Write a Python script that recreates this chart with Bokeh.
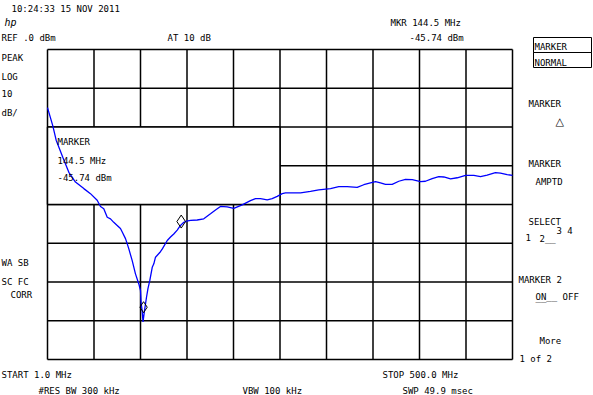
from bokeh.plotting import figure
from bokeh.models import Label
from bokeh.embed import file_html
from bokeh.resources import INLINE

# ---- data ----
start_mhz = 1.0
stop_mhz = 500.0
ref_dbm = 0.0
db_per_div = 10
n_xdiv = 10
n_ydiv = 8

freq_mhz = [1.0, 6.7, 10.3, 17.4, 23.9, 31.0, 40.0, 47.1, 54.3, 57.9, 61.4, 65.1, 68.6,
            72.1, 75.8, 79.3, 81.2, 84.7, 86.5, 88.2, 91.9, 95.4, 99.0, 100.8, 101.5,
            102.6, 103.5, 105.1, 107.2, 108.8, 110.8, 113.4, 115.1, 116.9, 121.5, 124.4,
            129.5, 133.0, 136.5, 140.2, 143.7, 147.3, 150.2, 154.5, 161.6, 168.7, 175.9,
            181.3, 186.6, 193.8, 200.9, 209.9, 218.8, 224.2, 229.6, 236.8, 242.1, 247.5,
            252.9, 256.4, 261.8, 272.5, 283.2, 292.1, 304.7, 313.6, 322.6, 333.3, 340.4,
            347.6, 353.0, 358.3, 363.7, 370.9, 378.0, 385.2, 392.4, 401.3, 406.6, 413.8,
            420.9, 426.3, 433.5, 440.7, 449.6, 458.5, 465.7, 472.8, 481.7, 487.1, 494.3, 500.0]
level_dbm = [-15.0, -19.7, -23.4, -27.8, -31.7, -34.2, -35.9, -37.2, -38.9, -40.5, -41.1,
             -43.3, -43.7, -44.6, -45.4, -46.2, -47.1, -48.8, -50.1, -51.4, -54.5, -57.9,
             -60.5, -62.2, -65.5, -67.4, -70.3, -67.4, -64.0, -61.7, -59.6, -56.2, -55.3,
             -53.6, -52.4, -51.4, -49.3, -48.4, -47.6, -46.6, -45.4, -44.6, -44.3, -44.1,
             -44.0, -43.7, -42.4, -41.4, -40.5, -40.6, -41.0, -40.1, -39.0, -38.5, -38.5,
             -38.8, -38.5, -37.9, -37.2, -37.0, -37.0, -37.0, -36.6, -36.2, -35.9, -35.4,
             -35.4, -35.6, -34.9, -34.4, -34.1, -34.4, -34.8, -34.8, -34.0, -33.5, -33.6,
             -34.1, -34.0, -33.3, -32.8, -32.9, -33.4, -33.1, -32.5, -32.5, -32.8, -32.4,
             -31.8, -31.9, -32.3, -32.5]

marker_mhz = [144.5]
marker_dbm = [-44.4]
marker2_mhz = [104.1]
marker2_dbm = [-66.5]

# ---- geometry: reference pixel -> data ----
FL, FT, FW, FH = 47, 49, 465, 310
W, H = 593, 395
bottom_dbm = ref_dbm - db_per_div * n_ydiv


def fx(px):
    return start_mhz + (px - FL) * (stop_mhz - start_mhz) / FW


def fy(py):
    return ref_dbm - (py - FT) * (ref_dbm - bottom_dbm) / FH


p = figure(frame_width=W, frame_height=H, output_backend="svg", toolbar_location=None,
           x_range=(fx(0), fx(W)), y_range=(fy(H), fy(0)), min_border=0)
p.axis.visible = False
p.grid.visible = False
p.outline_line_color = None
p.background_fill_color = "white"
p.border_fill_color = "white"

# graticule
xstep = (stop_mhz - start_mhz) / n_xdiv
vx = [start_mhz + k * xstep for k in range(n_xdiv + 1)]
hy = [ref_dbm - k * db_per_div for k in range(n_ydiv + 1)]
p.segment(x0=vx, x1=vx, y0=[bottom_dbm] * len(vx), y1=[ref_dbm] * len(vx),
          line_color="black", line_width=1.5)
p.segment(x0=[start_mhz] * len(hy), x1=[stop_mhz] * len(hy), y0=hy, y1=hy,
          line_color="black", line_width=1.5)

# marker annotation box covering part of the graticule
p.quad(left=[start_mhz], right=[start_mhz + 5 * xstep], top=[ref_dbm - 2 * db_per_div],
       bottom=[ref_dbm - 4 * db_per_div], fill_color="white", line_color="black", line_width=1.5)

p.line(freq_mhz, level_dbm, line_color="#0000ff", line_width=1.3)

p.scatter(marker_mhz, marker_dbm, marker="diamond", size=13, fill_color=None,
          line_color="black", line_width=1)
p.scatter(marker2_mhz, marker2_dbm, marker="diamond", size=11, fill_color=None,
          line_color="black", line_width=1)

FONT = "DejaVu Sans Mono"
FS = "9px"


def lab(text, px, py, size=FS, font=FONT, style="normal"):
    p.add_layout(Label(x=fx(px), y=fy(py), text=text, text_font=font, text_font_size=size,
                       text_baseline="top", text_align="left", text_color="black",
                       text_font_style=style))


lab("10:24:33  15 NOV 2011", 11, 3)
lab("hp", 4, 16, size="10px", style="italic")
lab("REF .0 dBm", 1, 32)
lab("AT 10 dB", 167, 32)
lab("MKR 144.5 MHz", 390, 17)
lab("-45.74 dBm", 409, 32)

for t, y in [("PEAK", 52), ("LOG", 71), ("10", 89), ("dB/", 107), ("WA SB", 257), ("SC FC", 276)]:
    lab(t, 1, y)
lab("CORR", 10, 289)

lab("MARKER", 57, 136)
lab("144.5 MHz", 57, 155)
lab("-45.74 dBm", 57, 172)

lab("START 1.0 MHz", 1, 369)
lab("#RES BW 300 kHz", 38, 385)
lab("VBW 100 kHz", 242, 385)
lab("STOP 500.0 MHz", 382, 369)
lab("SWP 49.9 msec", 402, 385)

# softkey menu
lab("MARKER", 534, 41)
lab("NORMAL", 534, 57)
p.quad(left=[fx(533)], right=[fx(591)], top=[fy(37)], bottom=[fy(52)], fill_color=None,
       line_color="black", line_width=1)
p.quad(left=[fx(533)], right=[fx(591)], top=[fy(52)], bottom=[fy(67)], fill_color=None,
       line_color="black", line_width=1)
lab("MARKER", 528, 98)
lab("\u25b3", 555, 114, size="11px", font="DejaVu Sans")
lab("MARKER", 528, 158)
lab("AMPTD", 535, 176)
lab("SELECT", 528, 216)
lab("1", 525, 233)
lab("2__", 539, 233)
lab("3 4", 556, 225)
lab("MARKER 2", 518, 274)
lab("ON__ OFF", 535, 291)
lab("__", 535, 292)
lab("More", 539, 335)
lab("1 of 2", 519, 353)

open("out.html", "w").write(file_html(p, INLINE))
